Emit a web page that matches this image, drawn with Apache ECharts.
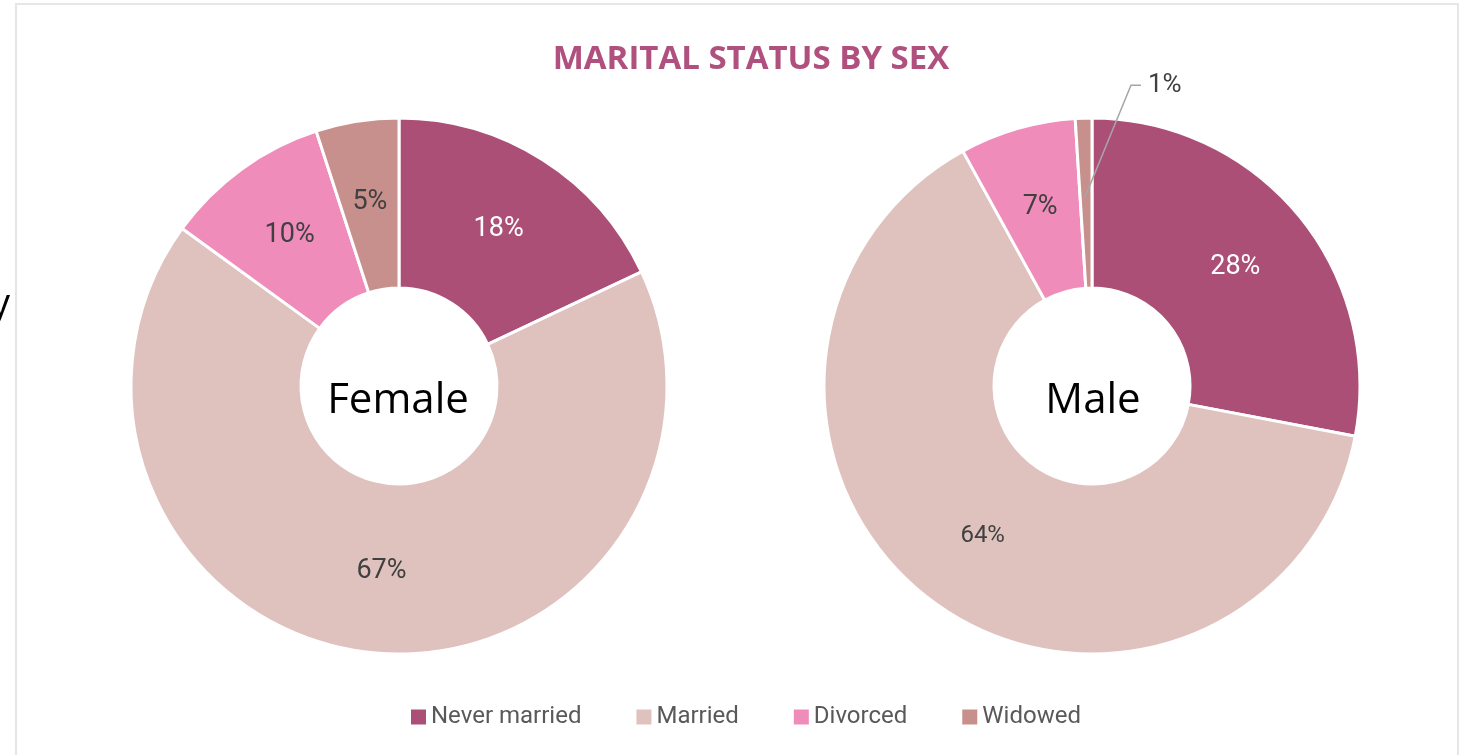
<!DOCTYPE html>
<html>
<head>
<meta charset="utf-8">
<title>Marital status by sex</title>
<script src="https://cdn.jsdelivr.net/npm/echarts@6/dist/echarts.min.js"></script>
<style>
  html, body { margin: 0; padding: 0; background: #fff; }
  #main { width: 1465px; height: 755px; }
</style>
</head>
<body>
<div id="main"></div>
<script>
const categories = ['Never married', 'Married', 'Divorced', 'Widowed']
const colors = ['#ac4f77', '#dfc2be', '#f08cba', '#c8908c']
const femaleValues = [18, 67, 10, 5]
const maleValues = [28, 64, 7, 1]

const leftCenter = [399, 386]
const rightCenter = [1092, 386]
const radius = [98, 268]

let myChart = echarts.init(document.getElementById('main'))

function buildData(values, isMale) {
  return values.map(function (v, i) {
    let item = { name: categories[i], value: v, itemStyle: { color: colors[i] } }
    if (i === 0) {
      item.label = { color: '#ffffff' }
    }
    if (isMale && i === 1) {
      item.label = { fontSize: 24 }
    }
    if (isMale && i === 3) {
      // drawn by the overlay series so its leader line sits on top of the slices
      item.label = { show: false }
    }
    return item
  })
}

function pieSeries(name, center, values, isMale) {
  return {
    name: name,
    type: 'pie',
    center: center,
    radius: radius,
    startAngle: 90,
    clockwise: true,
    avoidLabelOverlap: false,
    silent: true,
    itemStyle: { borderColor: '#fff', borderWidth: 3 },
    label: {
      show: true,
      position: 'inside',
      formatter: '{c}%',
      color: '#404040',
      fontFamily: 'Roboto',
      fontSize: 27
    },
    labelLine: { show: false },
    data: buildData(values, isMale)
  }
}

// transparent copy of the male ring, only carries the 1% callout
function calloutSeries(center, values) {
  return {
    name: 'Male callout',
    type: 'pie',
    z: 5,
    center: center,
    radius: radius,
    startAngle: 90,
    clockwise: true,
    avoidLabelOverlap: false,
    silent: true,
    itemStyle: { color: 'rgba(0,0,0,0)', borderWidth: 0 },
    label: { show: false },
    labelLine: { show: false },
    labelLayout: function (params) {
      if (params.dataIndex === 3 && params.labelLinePoints) {
        let r = params.labelRect
        let dx = 112
        let dy = -3
        let lx = r.x + dx
        let cy = r.y + r.height / 2 + dy
        let p0 = params.labelLinePoints[0]
        return {
          dx: dx,
          dy: dy,
          labelLinePoints: [[p0[0] + 1, p0[1] + 80], [lx - 17, cy], [lx - 7, cy]]
        }
      }
    },
    data: values.map(function (v, i) {
      let item = { name: categories[i], value: v }
      if (i === 3) {
        item.label = {
          show: true,
          position: 'outside',
          formatter: '{c}%',
          color: '#404040',
          fontFamily: 'Roboto',
          fontSize: 26
        }
        item.labelLine = {
          show: true,
          showAbove: true,
          length: 30,
          length2: 8,
          minTurnAngle: 0,
          maxSurfaceAngle: 180,
          lineStyle: { color: '#a6a6a6', width: 1.5 }
        }
      }
      return item
    })
  }
}

let option = {
  backgroundColor: '#fff',
  animation: false,
  title: [
    {
      text: 'MARITAL STATUS BY SEX',
      left: 746,
      top: 38,
      textAlign: 'center',
      textStyle: { color: '#b0507e', fontFamily: 'Open Sans', fontWeight: 'bold', fontSize: 33 }
    },
    {
      text: 'Female',
      left: 393,
      top: leftCenter[1] - 11,
      textAlign: 'center',
      textStyle: { color: '#000', fontFamily: 'Open Sans', fontWeight: 'normal', fontSize: 42 }
    },
    {
      text: 'Male',
      left: rightCenter[0] - 4,
      top: rightCenter[1] - 11,
      textAlign: 'center',
      textStyle: { color: '#000', fontFamily: 'Open Sans', fontWeight: 'normal', fontSize: 42 }
    }
  ],
  legend: {
    data: categories,
    left: 404,
    top: 700,
    icon: 'rect',
    itemWidth: 17,
    itemHeight: 17,
    itemGap: 53,
    textStyle: { color: '#595959', fontFamily: 'Roboto', fontSize: 24, padding: [0, 0, 0, -1] }
  },
  graphic: [
    {
      type: 'rect',
      shape: { x: 16, y: 4, width: 1442, height: 770 },
      style: { fill: 'none', stroke: '#e6e6e6', lineWidth: 2 },
      silent: true
    },
    {
      type: 'text',
      left: -9,
      top: 286,
      style: { text: 'y', fill: '#000', font: '38px "Open Sans"' },
      silent: true
    }
  ],
  series: [
    pieSeries('Female', leftCenter, femaleValues, false),
    pieSeries('Male', rightCenter, maleValues, true),
    calloutSeries(rightCenter, maleValues)
  ]
}

myChart.setOption(option)
</script>
</body>
</html>
